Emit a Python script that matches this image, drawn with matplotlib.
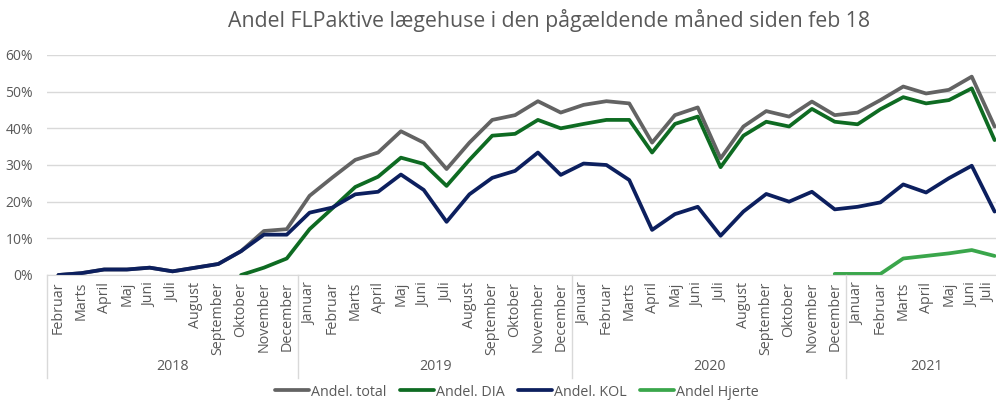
import matplotlib
matplotlib.use("Agg")
import matplotlib.pyplot as plt
import matplotlib.transforms as mtransforms
import numpy as np

plt.rcParams['font.family'] = ['Open Sans', 'DejaVu Sans']

# måneder feb 2018 - jul 2021
months = (["Februar", "Marts", "April", "Maj", "Juni", "Juli", "August",
           "September", "Oktober", "November", "December"]
          + ["Januar", "Februar", "Marts", "April", "Maj", "Juni", "Juli", "August",
             "September", "Oktober", "November", "December"] * 2
          + ["Januar", "Februar", "Marts", "April", "Maj", "Juni", "Juli"])
years = ["2018", "2019", "2020", "2021"]
year_counts = [11, 12, 12, 7]

# andele i procent
total = [0, 0.5, 1.5, 1.5, 2, 1, 2, 3, 6.5, 12, 12.5,
         21.6, 26.6, 31.4, 33.4, 39.2, 36.1, 28.9, 36.1, 42.3, 43.6, 47.4, 44.3,
         46.4, 47.4, 46.8, 36.1, 43.6, 45.7, 31.8, 40.5, 44.7, 43.2, 47.3, 43.6,
         44.3, 47.7, 51.4, 49.5, 50.5, 54.1, 40.5]
dia = [None, None, None, None, None, None, None, None, 0, 2, 4.5,
       12.5, 18.2, 24.0, 26.8, 32.0, 30.3, 24.3, 31.4, 38.0, 38.5, 42.3, 40.0,
       41.2, 42.3, 42.3, 33.4, 41.2, 43.2, 29.4, 38.0, 41.8, 40.5, 45.3, 41.8,
       41.1, 45.2, 48.5, 46.8, 47.7, 50.9, 36.8]
kol = [0, 0.5, 1.5, 1.5, 2, 1, 2, 3, 6.5, 11, 11,
       17.0, 18.4, 22.0, 22.7, 27.4, 23.2, 14.5, 22.0, 26.5, 28.4, 33.4, 27.3,
       30.4, 30.0, 25.9, 12.3, 16.6, 18.6, 10.7, 17.3, 22.1, 20.0, 22.7, 17.9,
       18.6, 19.8, 24.7, 22.5, 26.4, 29.8, 17.3]
hjerte = [None] * 34 + [0.3, 0.3, 0.3, 4.5, 5.2, 5.9, 6.8, 5.2]

x = np.arange(len(months))

def arr(v):
    return np.array([np.nan if a is None else a for a in v], dtype=float)

fig = plt.figure(figsize=(9.96, 4.03), dpi=100)
ax = fig.add_axes([47 / 996, 128 / 403, 959 / 996, 220 / 403])

lw = 2.7
ax.plot(x, arr(total), color='#636363', lw=lw, label='Andel. total', solid_capstyle='round')
ax.plot(x, arr(dia), color='#0e6b22', lw=lw, label='Andel. DIA', solid_capstyle='round')
ax.plot(x, arr(kol), color='#0c1f5e', lw=lw, label='Andel. KOL', solid_capstyle='round')
ax.plot(x, arr(hjerte), color='#3aa64b', lw=lw, label='Andel Hjerte', solid_capstyle='round')

ax.set_xlim(-0.5, len(months) - 0.5)
ax.set_ylim(0, 60)
ax.set_yticks(range(0, 61, 10))
ax.set_yticklabels([f"{v}%" for v in range(0, 61, 10)])
ax.grid(axis='y', color='#d9d9d9', lw=1)
ax.set_axisbelow(True)
for s in ['top', 'right', 'left']:
    ax.spines[s].set_visible(False)
ax.spines['bottom'].set_color('#d9d9d9')
ax.tick_params(axis='y', length=0, pad=10, labelsize=10, labelcolor='#595959')
ax.set_xticks(x)
ax.set_xticklabels(months, rotation=90, fontsize=10.3, color='#595959')
ax.tick_params(axis='x', length=0, pad=5)

# sidste label rykkes lidt ind så den ikke skæres af
last = ax.get_xticklabels()[-1]
last.set_transform(last.get_transform() + mtransforms.ScaledTranslation(-6 / 100, 0, fig.dpi_scale_trans))

trans = mtransforms.blended_transform_factory(ax.transData, ax.transAxes)
edges = np.concatenate([[0], np.cumsum(year_counts)]) - 0.5
for e in edges:
    ax.plot([e, e], [0, -0.47], transform=trans, color='#d9d9d9', lw=1, clip_on=False)
for i, yr in enumerate(years):
    c = (edges[i] + edges[i + 1]) / 2
    ax.text(c, -0.415, yr, transform=trans, ha='center', va='center',
            fontsize=10.3, color='#595959')

fig.text(549 / 996, 1 - 20 / 403, "Andel FLPaktive lægehuse i den pågældende måned siden feb 18",
         ha='center', va='center', fontsize=15.3, color='#595959')

fig.legend(loc='center', bbox_to_anchor=(517 / 996, 11 / 403), ncol=4, frameon=False,
           fontsize=10.3, handlelength=2.4, handletextpad=0.15, columnspacing=0.9,
           labelcolor='#595959', borderpad=0.1)

fig.savefig('out.png', dpi=100)
